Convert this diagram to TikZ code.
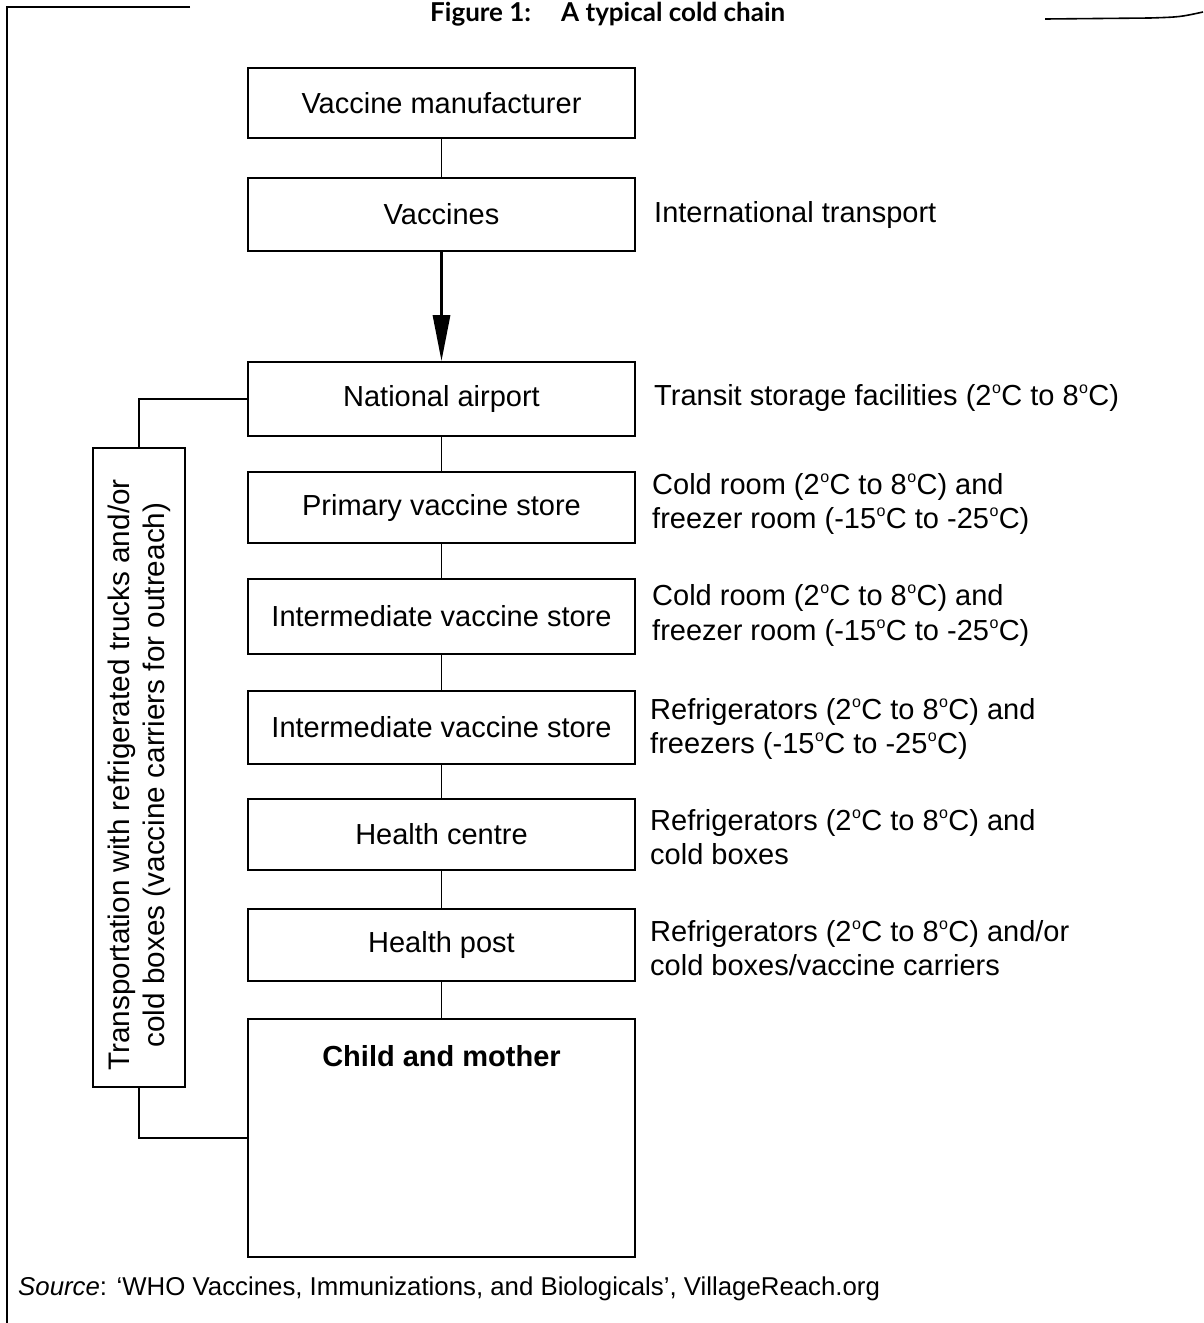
\documentclass[tikz,border=0pt]{standalone}
\usepackage{fontspec}
\setmainfont{Liberation Sans}
\newfontfamily\titlefont{Lato}
\usetikzlibrary{arrows.meta}
\newcommand\dg{\kern0.5pt\raisebox{12pt}{\fontsize{16}{16}\selectfont o}\kern0.3pt}
\begin{document}
\begin{tikzpicture}[x=1pt,y=-1pt,
  box/.style={draw,line width=1.6pt,minimum width=387pt,inner sep=0pt,font=\fontsize{29}{34}\selectfont},
  lab/.style={anchor=west,align=left,inner sep=0pt,font=\fontsize{29}{34.5}\selectfont},
  conn/.style={line width=1.4pt},
  frame/.style={line width=1.6pt}]
\useasboundingbox[fill=white] (0,0) rectangle (1203,1323);
% frame
\draw[frame] (190,7) -- (7,7) -- (7,1323);
\draw[frame] (1045,19) -- (1150,18) .. controls (1180,17) .. (1203,12);
\node[anchor=base west,inner sep=0pt,font=\titlefont\bfseries\fontsize{26}{30}\selectfont] (title) at (430,21) {Figure 1:\hspace{30pt}A typical cold chain};
% boxes
\node[box,minimum height=70pt] (man) at (441.5,103) {Vaccine manufacturer};
\node[box,minimum height=73pt] (vac) at (441.5,214.5) {Vaccines};
\node[box,minimum height=74pt] (nat) at (441.5,399) {National airport};
\node[box,minimum height=71pt] (prim) at (441.5,507.5) {Primary vaccine store};
\node[box,minimum height=75pt] (intA) at (441.5,616.5) {Intermediate vaccine store};
\node[box,minimum height=73pt] (intB) at (441.5,727.5) {Intermediate vaccine store};
\node[box,minimum height=71pt] (hc) at (441.5,834.5) {Health centre};
\node[box,minimum height=72pt] (hp) at (441.5,945) {Health post};
\node[box,minimum height=238pt,label={[anchor=north,inner sep=0pt,yshift=-27pt,font=\bfseries\fontsize{29}{34}\selectfont]north:Child and mother}] (child) at (441.5,1138) {};
% transport box
\node[draw,line width=1.6pt,minimum width=92pt,minimum height=639pt,inner sep=0pt] (trans) at (139,767.5) {};
\node[rotate=90,inner sep=0pt,align=center,font=\fontsize{29.7}{35}\selectfont] (transtext) at (139,775) {Transportation with refrigerated trucks and/or\\cold boxes (vaccine carriers for outreach)};
% connectors
\draw[conn] (man) -- (vac);
\draw[line width=3pt,-{Triangle[length=46pt,width=17pt]}] (vac) -- (nat);
\draw[conn] (nat) -- (prim);
\draw[conn] (prim) -- (intA);
\draw[conn] (intA) -- (intB);
\draw[conn] (intB) -- (hc);
\draw[conn] (hc) -- (hp);
\draw[conn] (hp) -- (child);
\draw[conn] (nat.west) -| (trans.north);
\draw[conn] (trans.south) |- (child.west);
% labels
\node[lab] (l1) at (654,215) {International transport};
\node[lab] (l2) at (654,398) {Transit storage facilities (2\dg C to 8\dg C)};
\node[lab] (l3) at (652,504) {Cold room (2\dg C to 8\dg C) and\\freezer room (-15\dg C to -25\dg C)};
\node[lab] (l4) at (652,615.5) {Cold room (2\dg C to 8\dg C) and\\freezer room (-15\dg C to -25\dg C)};
\node[lab] (l5) at (650,729) {Refrigerators (2\dg C to 8\dg C) and\\freezers (-15\dg C to -25\dg C)};
\node[lab] (l6) at (650,837) {Refrigerators (2\dg C to 8\dg C) and\\cold boxes};
\node[lab] (l7) at (650,948) {Refrigerators (2\dg C to 8\dg C) and/or\\cold boxes/vaccine carriers};
\node[anchor=west,inner sep=0pt,font=\fontsize{25.8}{30}\selectfont] (src) at (18,1289) {\textit{Source}: ‘WHO Vaccines, Immunizations, and Biologicals’, VillageReach.org};
\end{tikzpicture}
\end{document}
